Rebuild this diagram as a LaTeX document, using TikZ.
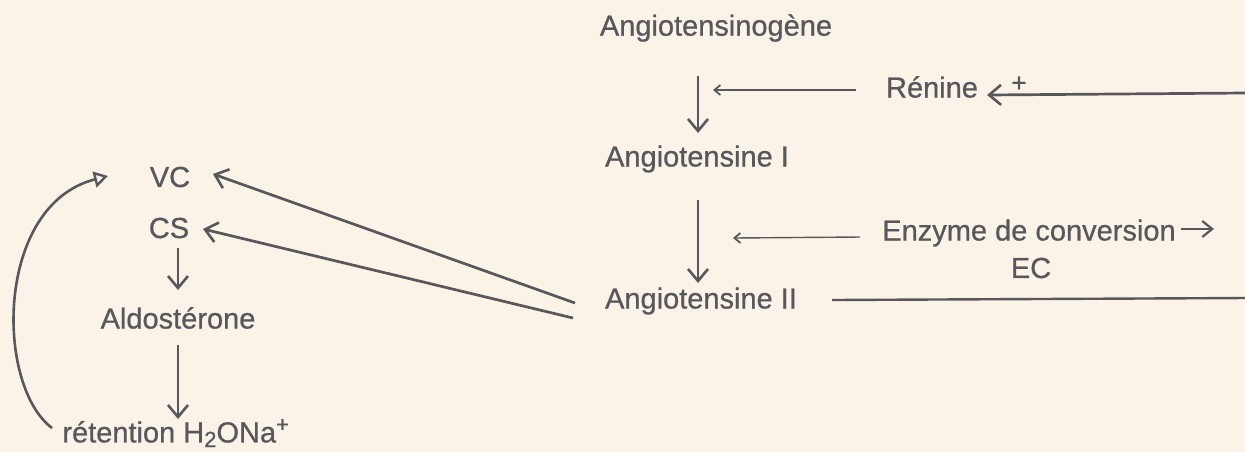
\documentclass[tikz,border=0pt]{standalone}
\usepackage{fontspec}
\setmainfont{Liberation Sans}[UprightFeatures={FakeBold=0.7}]
\usetikzlibrary{arrows.meta}
\definecolor{bg}{HTML}{FBF3E8}
\definecolor{ink}{HTML}{58585C}
\tikzset{
  lbl/.style={text=ink, font=\fontsize{14.5}{17}\selectfont, inner sep=1pt},
  thick arrow/.style={draw=ink, line width=1.35pt, -{Straight Barb[length=6pt,width=10pt,line width=1.3pt]}},
  thin arrow/.style={draw=ink, line width=0.7pt, -{Straight Barb[length=3pt,width=5pt,line width=0.9pt]}},
  plain line/.style={draw=ink, line width=1.2pt},
}
\begin{document}
\begin{tikzpicture}[x=0.5pt,y=-0.5pt]
\fill[bg] (0,0) rectangle (1245,452);
\useasboundingbox (0,0) rectangle (1245,452);
% nodes
\node[lbl] (agn) at (716,28) {Angiotensinogène};
\node[lbl] (a1) at (697,159) {Angiotensine I};
\node[lbl] (a2) at (701,301) {Angiotensine II};
\node[lbl] (ren) at (932,87) {Rénine};
\node[lbl] (enz) at (1029,233) {Enzyme de conversion};
\node[lbl] (ec) at (1031,268) {EC};
\node[lbl] (vc) at (170,177) {VC};
\node[lbl] (cs) at (169,228) {CS};
\node[lbl] (ald) at (178,318) {Aldostérone};
\node[lbl, anchor=west] (ret) at (60,433) {rétention H\raisebox{-0.3ex}{\fontsize{11}{12}\selectfont 2}ONa\raisebox{0.7ex}{\fontsize{11}{12}\selectfont +}};
\node[text=ink, font=\fontsize{13}{13}\selectfont, inner sep=0pt] (plus) at (1019,84) {+};
% coordinates
\coordinate (c1a) at (698,76);
\coordinate (c1b) at (698,133);
\coordinate (c2a) at (698,200);
\coordinate (c2b) at (698,283);
\coordinate (r1) at (856,90);
\coordinate (r2) at (713,90);
\coordinate (e1) at (860,237);
\coordinate (e2) at (733,238);
\coordinate (rin) at (1245,93);
\coordinate (rtip) at (987,95);
\coordinate (eo1) at (1181,229);
\coordinate (eo2) at (1214,229);
\coordinate (a2r) at (832,300);
\coordinate (a2e) at (1245,298);
\coordinate (s1) at (575,303);
\coordinate (s2) at (573,318);
\coordinate (vct) at (213,174);
\coordinate (cst) at (203,229);
\coordinate (ca) at (178,248);
\coordinate (cb) at (178,290);
\coordinate (da) at (178,345);
\coordinate (db) at (178,419);
\coordinate (loopa) at (52,428);
\coordinate (loopb) at (108,176);
% connectors
\draw[thick arrow] (c1a) -- (c1b);
\draw[thick arrow] (c2a) -- (c2b);
\draw[thin arrow] (r1) -- (r2);
\draw[thin arrow] (e1) -- (e2);
\draw[thick arrow] (rin) -- (rtip);
\draw[draw=ink, line width=1.1pt, -{Straight Barb[length=5pt,width=8pt,line width=1.1pt]}] (eo1) -- (eo2);
\draw[plain line] (a2r) -- (a2e);
\draw[thick arrow] (s1) -- (vct);
\draw[thick arrow] (s2) -- (cst);
\draw[thick arrow] (ca) -- (cb);
\draw[thick arrow] (da) -- (db);
\draw[draw=ink, line width=1.3pt, -{Triangle[open,length=7pt,width=8pt,line width=1.2pt]}]
  (loopa) .. controls (-5,385) and (-5,205) .. (loopb);
\end{tikzpicture}
\end{document}
